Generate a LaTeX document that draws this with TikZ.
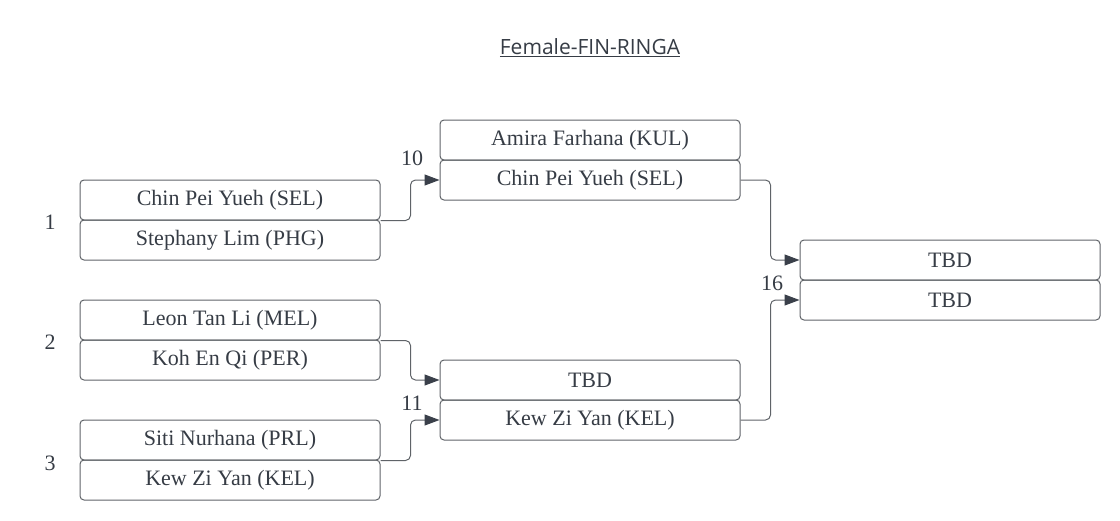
\documentclass[tikz,border=0pt]{standalone}
\usepackage{fontspec}
\setmainfont{Liberation Serif}
\newfontfamily\titlefont{Open Sans}
\usetikzlibrary{arrows.meta}
\definecolor{strokec}{HTML}{5F6368}
\definecolor{textc}{HTML}{363C45}
\definecolor{arrowc}{HTML}{3A404A}
\tikzset{
  slot/.style={draw=strokec, line width=1pt, rounded corners=4pt, minimum width=300pt, minimum height=40pt, inner sep=0pt, text=textc, font=\fontsize{22}{26}\selectfont},
  conn/.style={draw=strokec, line width=1pt, rounded corners=5pt, -{Triangle[length=15pt,width=11pt,color=arrowc]}},
  lbl/.style={text=textc, font=\fontsize{22}{26}\selectfont, inner sep=0pt}
}
\begin{document}
\begin{tikzpicture}[x=1pt,y=-1pt]
\useasboundingbox (0,0) rectangle (1120,520);
\node[text=textc, font=\titlefont\fontsize{21}{24}\selectfont, inner sep=1pt] (title) at (590,48) {\underline{Female-FIN-RINGA}};
% round 1
\node[slot] (a1) at (230,200) {Chin Pei Yueh (SEL)};
\node[slot] (a2) at (230,240) {Stephany Lim (PHG)};
\node[slot] (b1) at (230,320) {Leon Tan Li (MEL)};
\node[slot] (b2) at (230,360) {Koh En Qi (PER)};
\node[slot] (c1) at (230,440) {Siti Nurhana (PRL)};
\node[slot] (c2) at (230,480) {Kew Zi Yan (KEL)};
% round 2
\node[slot] (m1a) at (590,140) {Amira Farhana (KUL)};
\node[slot] (m1b) at (590,180) {Chin Pei Yueh (SEL)};
\node[slot] (m2a) at (590,380) {TBD};
\node[slot] (m2b) at (590,420) {Kew Zi Yan (KEL)};
% final
\node[slot] (r1) at (950,260) {TBD};
\node[slot] (r2) at (950,300) {TBD};
% labels
\node[lbl] (l1) at (50,222) {1};
\node[lbl] (l2) at (50,342) {2};
\node[lbl] (l3) at (50,463) {3};
\node[lbl] (l10) at (412,158) {10};
\node[lbl] (l11) at (412,403) {11};
\node[lbl] (l16) at (772,283) {16};
% connectors
\draw[conn] (a1.south east) -- ++(30,0) |- (m1b.west);
\draw[conn] (b1.south east) -- ++(30,0) |- (m2a.west);
\draw[conn] (c1.south east) -- ++(30,0) |- (m2b.west);
\draw[conn] (m1b.east) -- ++(30,0) |- (r1.west);
\draw[conn] (m2b.east) -- ++(30,0) |- (r2.west);
\end{tikzpicture}
\end{document}
